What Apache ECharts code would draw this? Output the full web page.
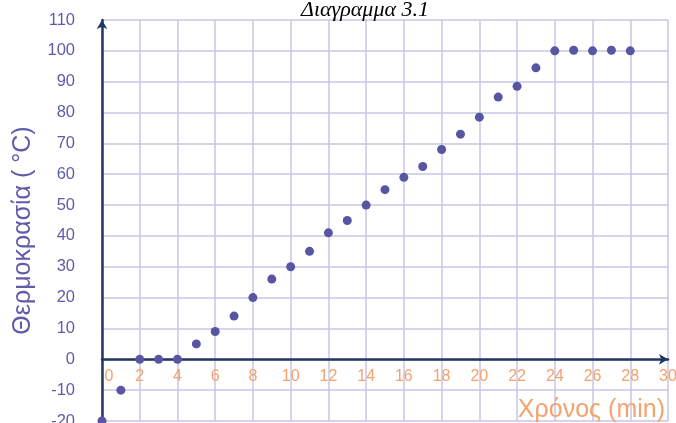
<!DOCTYPE html>
<html>
<head>
<meta charset="utf-8">
<script src="https://cdn.jsdelivr.net/npm/echarts@6/dist/echarts.min.js"></script>
<style>
  html, body { margin: 0; padding: 0; background: #fff; }
  #chart { width: 676px; height: 423px; }
</style>
</head>
<body>
<div id="chart"></div>
<script>
// Heating curve: temperature measured once per minute
const times = [0, 1, 2, 3, 4, 5, 6, 7, 8, 9, 10, 11, 12, 13, 14, 15, 16, 17, 18, 19, 20, 21, 22, 23, 24, 25, 26, 27, 28];
const temperatures = [-20, -10, 0, 0, 0, 5, 9, 14, 20, 26, 30, 35, 41, 45, 50, 55, 59, 62.5, 68, 73, 78.5, 85, 88.5, 94.5, 100, 100.2, 100, 100.2, 100];

const chartTitle = 'Διαγραμμα 3.1';
const xAxisTitle = 'Χρόνος (min)';
const yAxisTitle = 'Θερμοκρασία ( °C)';

const yMin = -20;
const yMax = 110;

const points = times.map((t, i) => [t, temperatures[i]]);

const purple = '#5A55A2';
const labelPurple = '#5F5CAA';
const orange = '#F4A26E';
const navy = '#1F3864';
const gridColor = '#C8C4E6';

const gridTop = 20;
const gridBottom = 2;
const chartHeight = 423;

const chart = echarts.init(document.getElementById('chart'), null, { renderer: 'canvas' });

// The time axis sits on the 0 °C line: shift it up from the bottom edge by
// the height that the negative part of the temperature scale takes.
const plotHeight = chartHeight - gridTop - gridBottom;
const zeroLift = plotHeight * (0 - yMin) / (yMax - yMin);

chart.setOption({
  animation: false,
  backgroundColor: '#ffffff',
  title: {
    text: chartTitle,
    left: 360,
    top: -6,
    textAlign: 'center',
    textStyle: {
      fontFamily: 'Liberation Serif',
      fontStyle: 'italic',
      fontWeight: 'normal',
      fontSize: 22,
      color: '#000000'
    }
  },
  grid: {
    left: 102, right: 8, top: gridTop, bottom: gridBottom,
    containLabel: false,
    outerBoundsMode: 'none'
  },
  xAxis: {
    type: 'value',
    min: 0,
    max: 30,
    interval: 2,
    position: 'bottom',
    offset: -zeroLift,
    name: xAxisTitle,
    nameLocation: 'end',
    nameGap: -3,
    nameTextStyle: {
      color: orange,
      fontFamily: 'Liberation Sans',
      fontSize: 25,
      align: 'right',
      verticalAlign: 'top',
      padding: [38, 0, 0, 0]
    },
    axisLine: {
      onZero: false,
      symbol: ['none', 'arrow'],
      symbolSize: [8, 9],
      lineStyle: { color: navy, width: 2.5 }
    },
    axisTick: { show: false },
    axisLabel: {
      color: orange,
      fontFamily: 'Liberation Sans',
      fontSize: 16,
      margin: 9,
      formatter: v => (v === 0 ? '{z|0}' : String(v)),
      rich: {
        z: { color: orange, fontFamily: 'Liberation Sans', fontSize: 16, padding: [0, 0, 0, 14] }
      }
    },
    splitLine: { show: true, lineStyle: { color: gridColor, width: 1.5 } }
  },
  yAxis: {
    type: 'value',
    min: yMin,
    max: yMax,
    interval: 10,
    name: yAxisTitle,
    nameLocation: 'middle',
    nameGap: 66,
    nameRotate: 90,
    nameTextStyle: {
      color: labelPurple,
      fontFamily: 'Liberation Sans',
      fontSize: 25,
      padding: [0, 20, 0, 0]
    },
    axisLine: {
      onZero: false,
      symbol: ['none', 'arrow'],
      symbolSize: [8, 9],
      lineStyle: { color: navy, width: 2.5 }
    },
    axisTick: { show: false },
    axisLabel: {
      color: labelPurple,
      fontFamily: 'Liberation Sans',
      fontSize: 16.5,
      margin: 27
    },
    splitLine: { show: true, lineStyle: { color: gridColor, width: 1.5 } }
  },
  series: [{
    type: 'scatter',
    data: points,
    symbol: 'circle',
    symbolSize: 9,
    clip: false,
    itemStyle: { color: purple, opacity: 1 },
    z: 5
  }]
});
</script>
</body>
</html>
